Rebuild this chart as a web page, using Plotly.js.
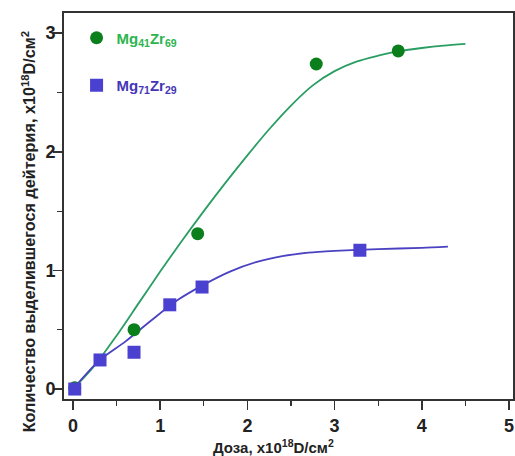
<!DOCTYPE html>
<html>
<head>
<meta charset="utf-8">
<script src="https://cdn.plot.ly/plotly-3.0.1.min.js"></script>
<style>html,body{margin:0;padding:0;background:#fff;}#chart{width:515px;height:456px;}</style>
</head>
<body>
<div id="chart"></div>
<script>
// Measured points
const greenX = [0.02, 0.70, 1.43, 2.79, 3.73];
const greenY = [0.01, 0.50, 1.31, 2.74, 2.85];
const blueX = [0.02, 0.31, 0.70, 1.11, 1.48, 3.29];
const blueY = [0.00, 0.245, 0.31, 0.71, 0.86, 1.17];
// Fit curves
const greenFitX = [0, 0.25, 0.5, 0.75, 1.0, 1.25, 1.5, 1.75, 2.0, 2.25, 2.5, 2.75, 3.0, 3.25, 3.5, 3.75, 4.0, 4.25, 4.5];
const greenFitY = [0, 0.20, 0.45, 0.72, 0.99, 1.25, 1.50, 1.74, 1.97, 2.19, 2.39, 2.56, 2.68, 2.76, 2.81, 2.85, 2.875, 2.895, 2.91];
const blueFitX = [0, 0.3, 0.6, 0.9, 1.2, 1.5, 1.8, 2.1, 2.4, 2.7, 3.0, 3.5, 4.0, 4.3];
const blueFitY = [0, 0.24, 0.40, 0.58, 0.75, 0.88, 0.99, 1.07, 1.12, 1.15, 1.165, 1.18, 1.19, 1.20];
const names = ['Mg<sub>41</sub>Zr<sub>69</sub>', 'Mg<sub>71</sub>Zr<sub>29</sub>'];

const traces = [
  {x: greenFitX, y: greenFitY, mode: 'lines', line: {color: '#2a9e62', width: 1.8, shape: 'spline', smoothing: 0.8}, showlegend: false, hoverinfo: 'skip'},
  {x: blueFitX, y: blueFitY, mode: 'lines', line: {color: '#4a42c2', width: 1.8, shape: 'spline', smoothing: 0.8}, showlegend: false, hoverinfo: 'skip'},
  {x: greenX, y: greenY, mode: 'markers', name: '<span style="color:#2db44f">' + names[0] + '</span>', legendgroup: 'g',
   marker: {symbol: 'circle', size: 13, color: '#0b7f1c'}},
  {x: blueX, y: blueY, mode: 'markers', name: '<span style="color:#4535b8">' + names[1] + '</span>', legendgroup: 'b',
   marker: {symbol: 'square', size: 13, color: '#4b41d0'}}
];

const axisCommon = {
  showgrid: false, zeroline: false, showline: true, linecolor: '#333', linewidth: 2, mirror: true,
  ticks: 'outside', ticklen: 9, tickwidth: 1.5, tickcolor: '#333', dtick: 1, tick0: 0,
  tickfont: {family: 'Liberation Sans, Arial, sans-serif', size: 18, color: '#222', weight: 'bold'},
  minor: {dtick: 0.5, ticks: 'outside', ticklen: 5, tickwidth: 1.2, tickcolor: '#333'}
};

const layout = {
  width: 515, height: 456,
  margin: {l: 64, r: 2, t: 13, b: 57},
  paper_bgcolor: '#fff', plot_bgcolor: '#fff',
  font: {family: 'Liberation Sans, Arial, sans-serif', color: '#222'},
  xaxis: Object.assign({}, axisCommon, {range: [-0.103, 5.046]}),
  yaxis: Object.assign({}, axisCommon, {range: [-0.084, 3.17], ticklabelstandoff: -6}),
  showlegend: true,
  legend: {x: 0.028, y: 0.978, xanchor: 'left', yanchor: 'top', bgcolor: 'rgba(0,0,0,0)',
    font: {size: 15, weight: 'bold'}, tracegroupgap: 25, traceorder: 'grouped'},
  annotations: [
    {text: 'Количество выделившегося дейтерия, x10<sup>18</sup>D/см<sup>2</sup>', textangle: -90,
     xref: 'paper', yref: 'paper', x: -0.106, y: 0.433, showarrow: false,
     font: {size: 16.2, weight: 'bold', color: '#222'}},
    {text: 'Доза, x10<sup>18</sup>D/см<sup>2</sup>', xref: 'paper', yref: 'paper',
     x: 0.467, y: -0.123, xanchor: 'center', yanchor: 'middle', showarrow: false,
     font: {size: 15, weight: 'bold', color: '#222'}}
  ]
};

Plotly.newPlot('chart', traces, layout, {displayModeBar: false, staticPlot: true});
</script>
</body>
</html>
